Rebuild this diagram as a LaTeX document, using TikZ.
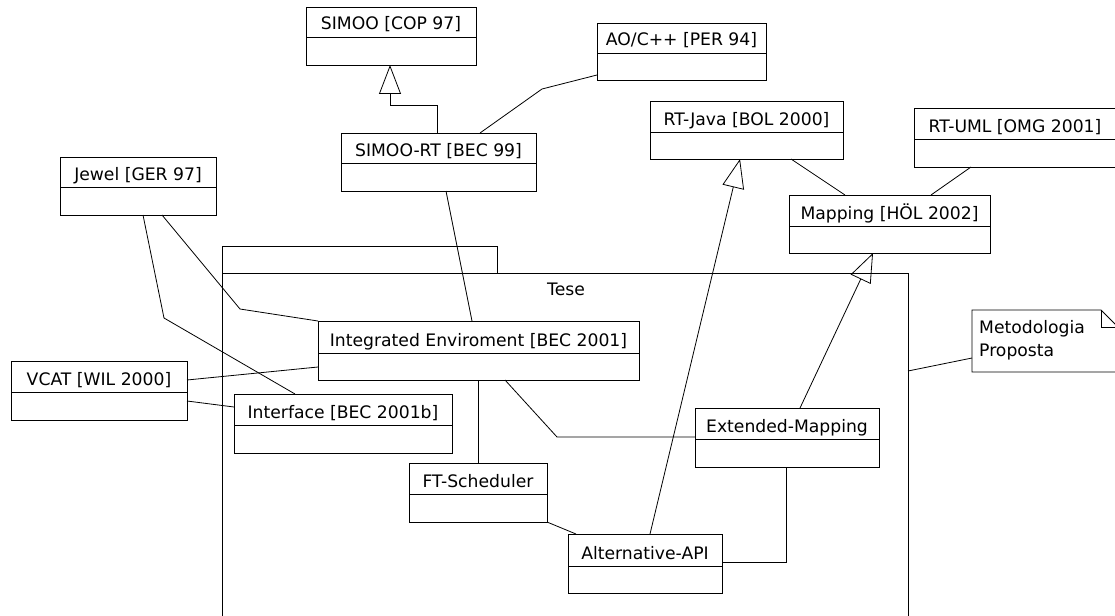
\documentclass[tikz,border=0pt]{standalone}
\usepackage{fontspec}
\setmainfont{DejaVu Sans}
\usetikzlibrary{arrows.meta,calc}

% A UML class box: name, left, top, right, divider y, bottom, title
\newcommand\umlclass[7]{%
  \node[cls, anchor=north west, minimum width=#4pt-#2pt, minimum height=#6pt-#3pt] (#1) at (#2,#3) {};
  \draw[ln] (#1.west |- 0,#5) -- (#1.east |- 0,#5);
  \node[lbl, anchor=base] (#1-t) at ($(#1.north |- 0,#5)+(0,-7)$) {#7};
}

\tikzset{
  ln/.style={line width=0.8pt, black},
  cls/.style={draw, line width=0.8pt, inner sep=0pt, outer sep=0pt},
  lbl/.style={font=\fontsize{17.2pt}{20pt}\selectfont, inner sep=0pt},
  assoc/.style={line width=0.8pt},
  gen/.style={line width=0.8pt, -{Triangle[open, length=29pt, width=22pt, line width=0.8pt]}},
}

\begin{document}
\begin{tikzpicture}[x=1pt, y=-1pt]
\useasboundingbox (0,0) rectangle (1115,615);
\fill[white] (0,0) rectangle (1115,615);
\clip (0,0) rectangle (1115,615);

% package "Tese"
\node[cls, anchor=north west, minimum width=275pt, minimum height=27pt] (tab) at (222,246) {};
\node[cls, anchor=north west, minimum width=686pt, minimum height=380pt] (tese) at (222,273) {};
\node[lbl, anchor=base] (tese-t) at (566,295) {Tese};

% classes
\umlclass{simoo}{306}{7}{476}{37}{65}{SIMOO [COP 97]}
\umlclass{aoc}{597}{23}{766}{53}{80}{AO/C++ [PER 94]}
\umlclass{simoort}{341}{133}{536}{163}{191}{SIMOO-RT [BEC 99]}
\umlclass{jewel}{60}{157}{216}{187}{215}{Jewel [GER 97]}
\umlclass{vcat}{11}{361}{187}{392}{420}{VCAT [WIL 2000]}
\umlclass{iface}{234}{394}{452}{425}{453}{Interface [BEC 2001b]}
\umlclass{ie}{318}{321}{639}{353}{380}{Integrated Enviroment [BEC 2001]}
\umlclass{rtjava}{650}{101}{843}{132}{159}{RT-Java [BOL 2000]}
\umlclass{rtuml}{914}{108}{1140}{139}{167}{}
\node[lbl, anchor=base] (rtuml-t) at (1015,132) {RT-UML [OMG 2001]};
\umlclass{mapping}{789}{195}{990}{226}{253}{Mapping [HÖL 2002]}
\umlclass{ext}{695}{408}{879}{439}{467}{Extended-Mapping}
\umlclass{ft}{409}{463}{547}{494}{522}{FT-Scheduler}
\umlclass{api}{568}{534}{722}{566}{593}{Alternative-API}

% note
\node[anchor=north west, minimum width=150pt, minimum height=62pt, inner sep=0pt, outer sep=0pt] (note) at (972,310) {};
\draw[ln] (note.north west) -- (1101,310) -- (1120,329) -- (note.south east |- 0,329) -- (note.south east) -- (note.south west) -- cycle;
\draw[ln] (1101,310) -- (1101,327) -- (1120,327);
\node[lbl, anchor=base west] (note-a) at (979,333) {Metodologia};
\node[lbl, anchor=base west] (note-b) at (979,356) {Proposta};

% generalizations
\draw[gen] (simoort.north -| 437,0) |- (390,105) -- (simoo.south -| 390,0);
\draw[gen] (api.north -| 650,0) -- (rtjava.south -| 740,0);
\draw[gen] (ext.north -| 800,0) -- (mapping.south -| 873,0);

% associations
\draw[assoc] (simoort.north -| 480,0) -- (542,89) -- (aoc.west |- 0,75);
\draw[assoc] (simoort.south -| 446,0) -- (ie.north -| 472,0);
\draw[assoc] (jewel.south -| 162,0) -- (240,309) -- (ie.north west);
\draw[assoc] (jewel.south -| 143,0) -- (164,318) -- (iface.north -| 295,0);
\draw[assoc] (vcat.east |- 0,380) -- (ie.west |- 0,367);
\draw[assoc] (vcat.east |- 0,401) -- (iface.west |- 0,407);
\draw[assoc] (ie.south -| 478,0) -- (ft.north -| 478,0);
\draw[assoc] (ie.south -| 505,0) -- (557,437) -- (ext.west |- 0,437);
\draw[assoc] (ft.south east) -- (api.north -| 576,0);
\draw[assoc] (ext.south -| 786,0) |- (api.east |- 0,562);
\draw[assoc] (rtjava.south -| 791,0) -- (mapping.north -| 845,0);
\draw[assoc] (rtuml.south -| 971,0) -- (mapping.north -| 931,0);
\draw[assoc] (tese.east |- 0,371) -- (note.west |- 0,358);
\end{tikzpicture}
\end{document}
